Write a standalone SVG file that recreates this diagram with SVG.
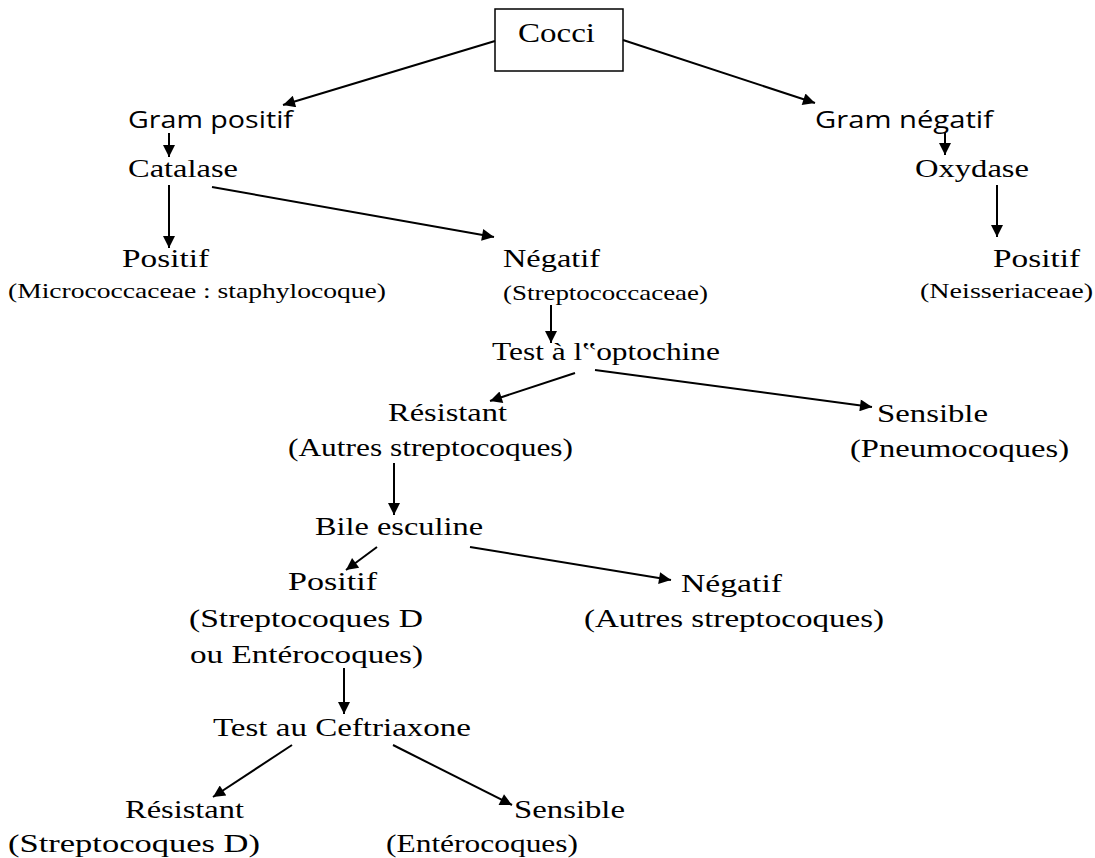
<svg xmlns="http://www.w3.org/2000/svg" width="1095" height="858" viewBox="0 0 1095 858">
<style>
.t{font-family:"Liberation Serif","Times New Roman",serif;font-size:25px;fill:#000}
.s{font-family:"Liberation Serif","Times New Roman",serif;font-size:21px;fill:#000}
.g{font-family:"Open Sans","Liberation Sans",sans-serif;font-size:23px;fill:#000}
.c line{stroke:#000;stroke-width:2;marker-end:url(#ah)}
</style>
<defs>
<marker id="ah" viewBox="0 0 10 10" refX="10" refY="5" markerWidth="7" markerHeight="6" markerUnits="strokeWidth" orient="auto">
<path d="M0,0 L10,5 L0,10 z" fill="#000"/>
</marker>
</defs>
<rect width="1095" height="858" fill="#fff"/>
<g id="cocci"><rect x="495" y="9" width="128" height="62" fill="#fff" stroke="#000" stroke-width="1.5"/><text class="t" style="font-size:27px" x="518" y="42" textLength="77" lengthAdjust="spacingAndGlyphs">Cocci</text></g>
<g id="grampos"><text class="g" x="128" y="128" textLength="165" lengthAdjust="spacingAndGlyphs">Gram positif</text></g>
<g id="catalase"><text class="t" x="128" y="177" textLength="110" lengthAdjust="spacingAndGlyphs">Catalase</text></g>
<g id="catpos"><text class="t" x="122" y="267" textLength="87" lengthAdjust="spacingAndGlyphs">Positif</text><text class="s" x="8" y="298" textLength="378" lengthAdjust="spacingAndGlyphs">(Micrococcaceae : staphylocoque)</text></g>
<g id="catneg"><text class="t" x="503" y="267" textLength="97" lengthAdjust="spacingAndGlyphs">Négatif</text><text class="s" x="503" y="300" textLength="205" lengthAdjust="spacingAndGlyphs">(Streptococcaceae)</text></g>
<g id="gramneg"><text class="g" x="815" y="128" textLength="178" lengthAdjust="spacingAndGlyphs">Gram négatif</text></g>
<g id="oxydase"><text class="t" x="915" y="177" textLength="114" lengthAdjust="spacingAndGlyphs">Oxydase</text></g>
<g id="oxypos"><text class="t" x="993" y="267" textLength="87" lengthAdjust="spacingAndGlyphs">Positif</text><text class="s" x="920" y="298" textLength="173" lengthAdjust="spacingAndGlyphs">(Neisseriaceae)</text></g>
<g id="opto"><text class="t" x="492" y="360" textLength="228" lengthAdjust="spacingAndGlyphs">Test à l‟optochine</text></g>
<g id="optores"><text class="t" x="388" y="421" textLength="119" lengthAdjust="spacingAndGlyphs">Résistant</text><text class="t" x="288" y="456" textLength="285" lengthAdjust="spacingAndGlyphs">(Autres streptocoques)</text></g>
<g id="optosens"><text class="t" x="877" y="422" textLength="111" lengthAdjust="spacingAndGlyphs">Sensible</text><text class="t" x="850" y="457" textLength="219" lengthAdjust="spacingAndGlyphs">(Pneumocoques)</text></g>
<g id="bile"><text class="t" x="315" y="535" textLength="168" lengthAdjust="spacingAndGlyphs">Bile esculine</text></g>
<g id="bilepos"><text class="t" x="288" y="590" textLength="89" lengthAdjust="spacingAndGlyphs">Positif</text><text class="t" x="189" y="627" textLength="234" lengthAdjust="spacingAndGlyphs">(Streptocoques D</text><text class="t" x="190" y="663" textLength="233" lengthAdjust="spacingAndGlyphs">ou Entérocoques)</text></g>
<g id="bileneg"><text class="t" x="681" y="592" textLength="101" lengthAdjust="spacingAndGlyphs">Négatif</text><text class="t" x="584" y="627" textLength="300" lengthAdjust="spacingAndGlyphs">(Autres streptocoques)</text></g>
<g id="ceftri"><text class="t" x="213" y="736" textLength="258" lengthAdjust="spacingAndGlyphs">Test au Ceftriaxone</text></g>
<g id="cefres"><text class="t" x="125" y="818" textLength="119" lengthAdjust="spacingAndGlyphs">Résistant</text><text class="t" x="8" y="852" textLength="252" lengthAdjust="spacingAndGlyphs">(Streptocoques D)</text></g>
<g id="cefsens"><text class="t" x="514" y="818" textLength="111" lengthAdjust="spacingAndGlyphs">Sensible</text><text class="t" x="386" y="852" textLength="192" lengthAdjust="spacingAndGlyphs">(Entérocoques)</text></g>
<g id="connectors" class="c">
<line x1="495" y1="41" x2="283" y2="105"/>
<line x1="623" y1="40" x2="815" y2="103"/>
<line x1="169" y1="133" x2="169" y2="157"/>
<line x1="169" y1="185" x2="169" y2="248"/>
<line x1="212" y1="187" x2="494" y2="237"/>
<line x1="945" y1="133" x2="945" y2="155"/>
<line x1="997" y1="185" x2="997" y2="237"/>
<line x1="551" y1="305" x2="551" y2="343"/>
<line x1="575" y1="373" x2="490" y2="401"/>
<line x1="595" y1="370" x2="872" y2="407"/>
<line x1="394" y1="463" x2="394" y2="515"/>
<line x1="377" y1="547" x2="346" y2="570"/>
<line x1="470" y1="547" x2="671" y2="580"/>
<line x1="344" y1="668" x2="344" y2="714"/>
<line x1="292" y1="745" x2="213" y2="797"/>
<line x1="393" y1="745" x2="512" y2="805"/>
</g>
</svg>
